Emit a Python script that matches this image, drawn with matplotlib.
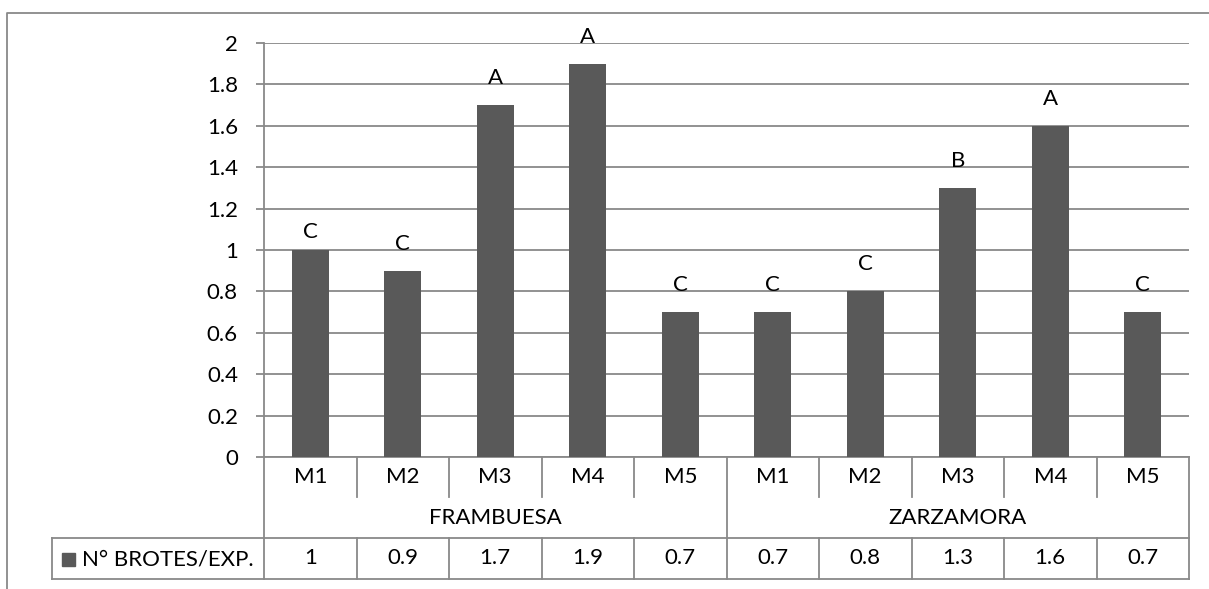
import numpy as np
import matplotlib.pyplot as plt
from matplotlib.lines import Line2D

plt.rcParams['font.family'] = ['Lato', 'DejaVu Sans']

groups = ["FRAMBUESA", "ZARZAMORA"]
treatments = ["M1", "M2", "M3", "M4", "M5"]
values = [1.0, 0.9, 1.7, 1.9, 0.7, 0.7, 0.8, 1.3, 1.6, 0.7]
table_labels = ["1", "0.9", "1.7", "1.9", "0.7", "0.7", "0.8", "1.3", "1.6", "0.7"]
letters = ["C", "C", "A", "A", "C", "C", "C", "B", "A", "C"]
series_name = "N° BROTES/EXP."

W, H = 1209, 589
bar_c = "#595959"
line_c = "#898989"
fs = 16

fig = plt.figure(figsize=(W / 100, H / 100), dpi=100)
ax = fig.add_axes([264 / W, 1 - 457 / H, (1189 - 264) / W, (457 - 43) / H])

x = np.arange(len(values))
ax.bar(x, values, width=0.4, color=bar_c, zorder=3)
for i, (v, t) in enumerate(zip(values, letters)):
    ax.annotate(t, (i, v), xytext=(0, 13 if i == 0 else 19.5), textcoords="offset points",
                ha="center", va="center", fontsize=fs)

ax.set_xlim(-0.5, 9.5)
ax.set_ylim(0, 2)
ax.set_yticks(np.arange(0, 2.01, 0.2))
ax.set_yticklabels(["0", "0.2", "0.4", "0.6", "0.8", "1", "1.2", "1.4", "1.6", "1.8", "2"])
ax.yaxis.grid(True, color=line_c, lw=1.3, zorder=0)
ax.set_xticks([])
ax.tick_params(axis="y", length=8 * 0.72, width=1.3, color=line_c, pad=13, labelsize=fs)
for s in ["top", "right"]:
    ax.spines[s].set_visible(False)
for s in ["left", "bottom"]:
    ax.spines[s].set_color(line_c)
    ax.spines[s].set_linewidth(1.3)

trans = ax.get_xaxis_transform()
y_cat = -40 / 414
y_grp = -81 / 414
y_tab = -122 / 414
x_left = (52 - 264) / 92.5 - 0.5


def seg(xs, ys):
    ax.add_line(Line2D(xs, ys, transform=trans, color=line_c, lw=1.3, clip_on=False))


for b in [-0.5, 4.5, 9.5]:
    seg([b, b], [0, y_tab])
for g in range(2):
    for k in range(1, 5):
        b = g * 5 + k - 0.5
        seg([b, b], [0, y_cat])
        seg([b, b], [y_grp, y_tab])
seg([x_left, 9.5], [y_grp, y_grp])
seg([x_left, 9.5], [y_tab, y_tab])
seg([x_left, x_left], [y_grp, y_tab])

for i in range(len(values)):
    ax.text(i, y_cat / 2, treatments[i % 5], transform=trans, ha="center", va="center", fontsize=fs)
    ax.text(i, (y_grp + y_tab) / 2, table_labels[i], transform=trans, ha="center", va="center",
            fontsize=fs)
for g, name in enumerate(groups):
    ax.text(g * 5 + 2, (y_cat + y_grp) / 2, name, transform=trans, ha="center", va="center",
            fontsize=fs)

# legend key in the table
fig.patches.append(plt.Rectangle((62 / W, 1 - 566 / H), 13 / W, 13 / H, transform=fig.transFigure,
                                 color=bar_c))
fig.text(82 / W, 1 - 559 / H, series_name, ha="left", va="center", fontsize=fs)

# outer chart border
fig.add_artist(Line2D([7 / W, 7 / W, 1], [0, 1 - 13 / H, 1 - 13 / H], transform=fig.transFigure,
                      color=line_c, lw=1.3))

fig.savefig("out.png", dpi=100)
